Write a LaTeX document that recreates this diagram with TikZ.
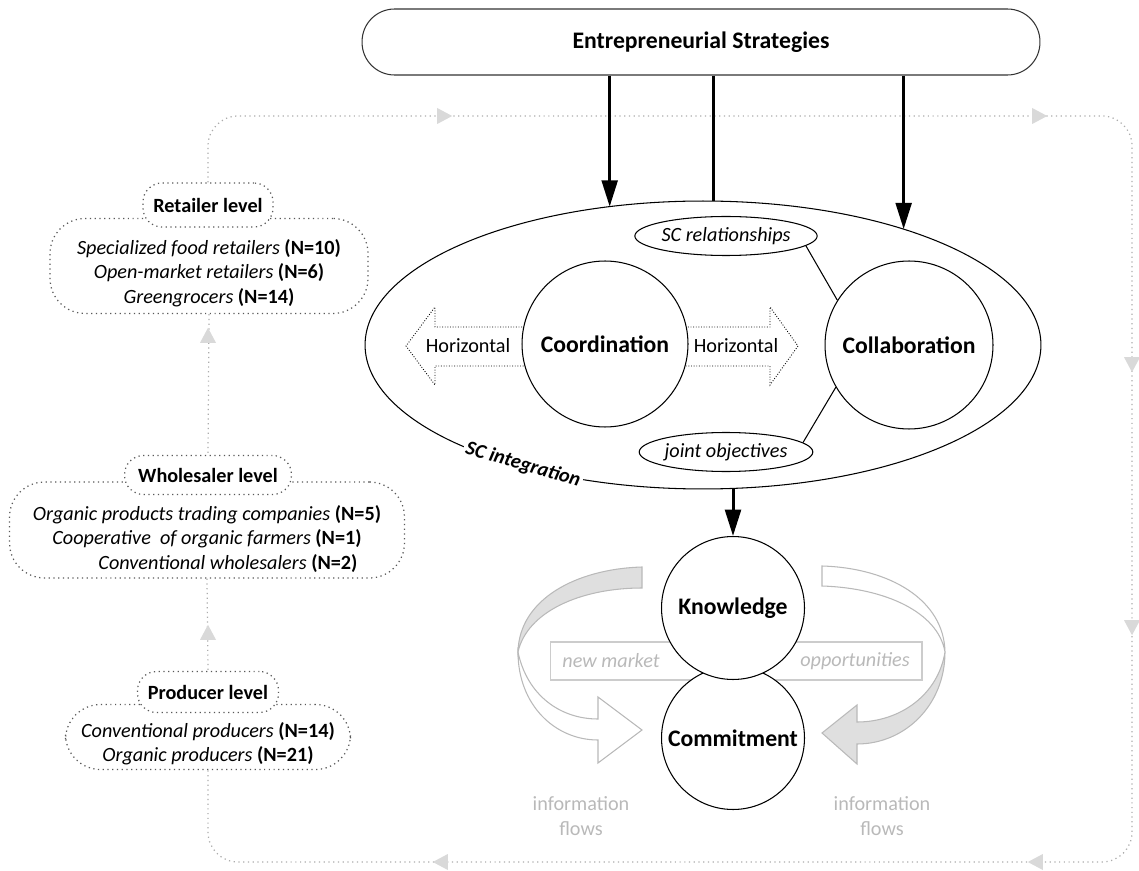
\documentclass[tikz,border=0pt]{standalone}
\usepackage{fontspec}
\setmainfont{Carlito}
\usetikzlibrary{arrows.meta,positioning,shapes.geometric}

\newcommand{\lvlfont}{\fontsize{11.5}{13.9}\selectfont}
\newcommand{\bigfont}{\fontsize{13.5}{16}\selectfont\bfseries}

\tikzset{
  flowline/.style={gray!65, dotted, line width=0.7pt},
  flowtip/.style={isosceles triangle, isosceles triangle stretches, fill=gray!30, inner sep=0pt, minimum width=0.32cm, minimum height=0.3cm},
  lvlbox/.style={draw=black!65, dotted, line width=0.7pt, fill=white, rounded corners=0.7cm, inner sep=0pt},
  lvltext/.style={align=center, font=\lvlfont, inner sep=0pt},
  lvlpill/.style={draw=black!65, dotted, line width=0.7pt, fill=white, rounded corners=0.38cm, font=\lvlfont\bfseries, inner sep=0pt},
  concept/.style={circle, draw, line width=0.6pt, fill=white, font=\bigfont, inner sep=0pt},
  tag/.style={ellipse, draw, line width=0.6pt, fill=white, font=\lvlfont\itshape, inner sep=0pt, minimum width=3.36cm, minimum height=0.78cm},
  heavy/.style={line width=1.7pt, -{Triangle[length=15pt,width=9pt]}},
  hzarrow/.style={densely dotted, line width=0.5pt},
  ribbon/.style={draw=gray!55, line width=0.6pt},
  faint/.style={text=gray!55, font=\lvlfont}
}

\begin{document}
\begin{tikzpicture}[x=0.02cm, y=-0.02cm]
\useasboundingbox (0,0) rectangle (1139,871);

% supply chain levels
\node[lvlbox, minimum width=6.36cm, minimum height=1.9cm] (retbox) at (209,266) {};
\node[lvltext] (rettext) at (209,273)
  {\textit{Specialized food retailers} \textbf{(N=10)}\\ \textit{Open-market retailers} \textbf{(N=6)}\\ \textit{Greengrocers} \textbf{(N=14)}};
\node[lvlpill, minimum width=2.6cm, minimum height=0.88cm] (retpill) at (208,205) {Retailer level};

\node[lvlbox, minimum width=7.9cm, minimum height=1.92cm] (whbox) at (207,530) {};
\node[lvltext] (whtext) at (207,539)
  {\textit{Organic products trading companies} \textbf{(N=5)}\\ \textit{Cooperative\ \ of organic farmers} \textbf{(N=1)}\\ \hspace*{0.84cm}\textit{Conventional wholesalers} \textbf{(N=2)}};
\node[lvlpill, minimum width=3.34cm, minimum height=0.78cm] (whpill) at (208,475) {Wholesaler level};

\node[lvlbox, minimum width=5.7cm, minimum height=1.3cm] (prodbox) at (208,737) {};
\node[lvltext] (prodtext) at (208,744)
  {\textit{Conventional producers} \textbf{(N=14)}\\ \textit{Organic producers} \textbf{(N=21)}};
\node[lvlpill, minimum width=2.82cm, minimum height=0.82cm] (prodpill) at (208,692) {Producer level};

% flow loop
\draw[flowline] (retbox.south) -- (whpill.north);
\draw[flowline] (whbox.south) -- (prodpill.north);
\draw[flowline, rounded corners=0.6cm] (retpill.north) |- (1132,116) -- (1132,862) -- (208,862) -- (prodbox.south);
\foreach \x/\y/\r [count=\i] in {208/338/90, 208/635/90, 442/116/0, 1037/116/0, 1132/362/-90, 1132/625/-90, 443/862/180, 1038/862/180}
  \node[flowtip, shape border rotate=\r] (tip\i) at (\x,\y) {};

% strategies and integration
\node[draw=black!80, line width=0.6pt, rounded corners=0.65cm, minimum width=13.56cm, minimum height=1.32cm, font=\bigfont] (strat) at (701,42) {Entrepreneurial Strategies};
\node[ellipse, draw, line width=0.6pt, minimum width=13.52cm, minimum height=5.76cm, inner sep=0pt, outer sep=0pt] (integ) at (703,345) {};
\node[font=\lvlfont\bfseries\itshape, fill=white, inner sep=1.5pt, rotate=-16] (integlbl) at (523,465) {SC integration};

\draw[hzarrow] (530,327) -- (435,327) -- (435,307) -- (406,346) -- (435,385) -- (435,366) -- (530,366);
\draw[hzarrow] (680,327) -- (770,327) -- (770,307) -- (798,346) -- (770,385) -- (770,366) -- (680,366);
\node[font=\lvlfont] (hzleft) at (468,346) {Horizontal};
\node[font=\lvlfont] (hzright) at (736,346) {Horizontal};

\node[concept, minimum size=3.32cm] (coord) at (605,344) {Coordination};
\node[concept, minimum size=3.36cm] (collab) at (909,345) {Collaboration};
\node[tag] (screl) at (726,236) {SC relationships};
\node[tag] (jointobj) at (726,452) {joint objectives};
\draw[line width=0.6pt] (screl.-7) -- (collab.148);
\draw[line width=0.6pt] (jointobj.7) -- (collab.210);

% knowledge and commitment
\node[draw=gray!40, line width=0.6pt, minimum width=7.44cm, minimum height=0.76cm] (mktbox) at (736,661) {};
\node[faint, font=\lvlfont\itshape] (newmkt) at (611,661) {new market};
\node[faint, font=\lvlfont\itshape] (opport) at (855,661) {opportunities};

\draw[ribbon, fill=gray!25] (642,567) .. controls (575,569) and (519,600) .. (518,652) .. controls (527,612) and (580,588) .. (642,588) -- cycle;
\draw[ribbon, fill=white] (518,652) .. controls (518,705) and (555,740) .. (598,740) -- (598,763) -- (642,730) -- (598,697) -- (598,719) .. controls (560,719) and (527,695) .. (518,652) -- cycle;
\draw[ribbon, fill=white] (822,566) .. controls (890,568) and (944,600) .. (945,652) .. controls (938,612) and (885,588) .. (822,586) -- cycle;
\draw[ribbon, fill=gray!25] (945,652) .. controls (945,705) and (905,744) .. (857,744) -- (857,764) -- (822,733) -- (857,705) -- (857,722) .. controls (900,722) and (938,695) .. (945,652) -- cycle;

\node[concept, minimum size=2.86cm] (commit) at (733,738) {Commitment};
\node[concept, minimum size=2.86cm] (know) at (733,608) {Knowledge};

\node[faint, align=center] (infoleft) at (581,816) {information\\flows};
\node[faint, align=center] (inforight) at (882,816) {information\\flows};

% strategy arrows
\draw[heavy] (strat.south -| integ.124.5) -- (integ.124.5);
\draw[line width=1.7pt] (strat.south -| integ.86) -- (integ.86);
\draw[heavy] (strat.south -| integ.30.5) -- (integ.30.5);
\draw[heavy] (know.north |- integ.-78.2) -- (know.north);
\end{tikzpicture}
\end{document}
